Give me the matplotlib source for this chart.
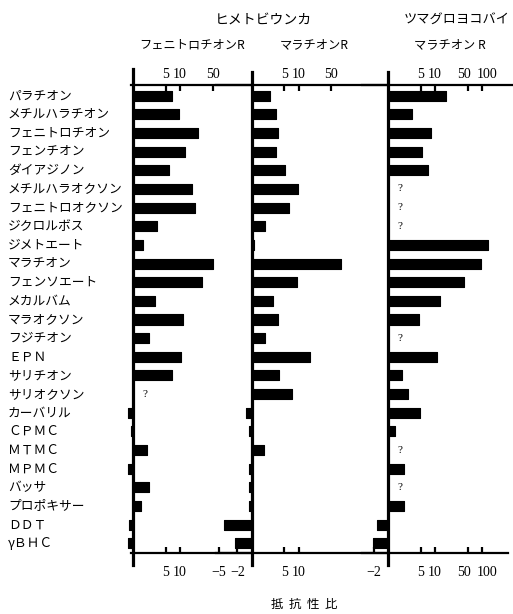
import matplotlib

matplotlib.use("Agg")

import matplotlib.pyplot as plt
import numpy as np
from matplotlib.ticker import NullLocator
from matplotlib.transforms import ScaledTranslation, blended_transform_factory

plt.rcParams["font.family"] = ["Noto Sans CJK JP", "DejaVu Sans"]

INSECTICIDES = [
    "パラチオン", "メチルハラチオン", "フェニトロチオン", "フェンチオン", "ダイアジノン",
    "メチルハラオクソン", "フェニトロオクソン", "ジクロルボス", "ジメトエート", "マラチオン",
    "フェンソエート", "メカルバム", "マラオクソン", "フジチオン", "ＥＰＮ",
    "サリチオン", "サリオクソン", "カーバリル", "ＣＰＭＣ", "ＭＴＭＣ",
    "ＭＰＭＣ", "バッサ", "プロポキサー", "ＤＤＴ", "γＢＨＣ",
]

# resistance ratios; negative = negatively correlated (ratio 1/|r|), None = "?"
SBPH_FENITROTHION_R = [
    6.6, 9.4, 24, 12.8, 5.9, 18, 20.5, 3.3, 1.6, 50,
    30, 2.9, 11.8, 2.15, 10.7, 6.6, None, -1.3, -1.1, 2.0,
    -1.3, 2.2, 1.5, -1.2, -1.3,
]
SBPH_MALATHION_R = [
    2.5, 3.3, 3.6, 3.3, 5.2, 9.6, 6.3, 1.9, 1.15, 79,
    9.4, 2.8, 3.6, 1.9, 18, 3.9, 7.3, -1.3, -1.15, 1.85,
    -1.15, -1.15, -1.15, -3.8, -2.2,
]
GLH_MALATHION_R = [
    17, 3.3, 8.1, 5.2, 7.0, None, None, None, 137, 93,
    42, 13, 4.6, None, 10.9, 2.0, 2.7, 4.7, 1.4, None,
    2.15, None, 2.15, -1.75, -2.1,
]

PANEL_DATA = [SBPH_FENITROTHION_R, SBPH_MALATHION_R, GLH_MALATHION_R]
PANEL_TITLES = ["フェニトロチオンR", "マラチオンR", "マラチオン R"]
TOP_TICKS = [[5, 10, 50], [5, 10, 50], [5, 10, 50, 100]]
BOTTOM_TICKS = [[5, 10], [-5, -2, 5, 10], [-2, 5, 10, 50, 100]]
# small sideways nudges (points) so the crowded "50 100" labels don't collide
LABEL_NUDGE = {50: -2.5, 100: 4.0}

W, H = 513, 614
DECADE = 47.0  # pixels per decade
ORIGINS = [133, 251.5, 388]
SPANS = [(0.3, 2.5), (0.75, 2.9), (0.55, 2.65)]
TOP_PX, BOTTOM_PX = 85, 553
ROW0_PX, ROW_STEP = 95.7, 18.65


def to_axis(value):
    return 1.0 / abs(value) if value < 0 else float(value)


def tick_label(value):
    return f"−{abs(value)}" if value < 0 else str(value)


def style_labels(axis_obj, ticks, index):
    for label, tick in zip(axis_obj.get_xticklabels(), ticks):
        label.set_family("Liberation Serif")
        if index == 2 and tick in LABEL_NUDGE:
            shift = ScaledTranslation(LABEL_NUDGE[tick] / 72, 0, fig.dpi_scale_trans)
            label.set_transform(label.get_transform() + shift)


fig = plt.figure(figsize=(W / 100, H / 100), dpi=100)
rows = np.arange(len(INSECTICIDES))
y_top = (TOP_PX - ROW0_PX) / ROW_STEP
y_bottom = (BOTTOM_PX - ROW0_PX) / ROW_STEP

axes = []
for index, values in enumerate(PANEL_DATA):
    origin = ORIGINS[index]
    left_dec, right_dec = SPANS[index]
    left_px = origin - left_dec * DECADE
    right_px = origin + right_dec * DECADE
    ax = fig.add_axes([
        left_px / W, (H - BOTTOM_PX) / H,
        (right_px - left_px) / W, (BOTTOM_PX - TOP_PX) / H,
    ])
    ax.patch.set_alpha(0)
    ax.set_xscale("log")
    ax.set_xlim(10 ** -left_dec, 10 ** right_dec)
    ax.set_ylim(y_bottom, y_top)

    ends = np.array([np.nan if v is None else to_axis(v) for v in values])
    ax.barh(rows, ends - 1, left=1, height=0.54, color="black",
            edgecolor="black", linewidth=0.8, joinstyle="round")
    for row, v in zip(rows, values):
        if v is None:
            ax.annotate("?", xy=(1, row), xytext=(7, 0), textcoords="offset points",
                        ha="left", va="center", fontsize=8, family="Liberation Serif")

    ax.axvline(1, ymin=-0.026, ymax=1.035 if index == 0 else 1.028,
               color="black", lw=2.3, clip_on=False)

    for side in ("left", "right"):
        ax.spines[side].set_visible(False)
    for side in ("top", "bottom"):
        ax.spines[side].set_linewidth(1.6)
    if index == 0:
        ax.spines["top"].set_bounds(0.9, 10 ** right_dec)
        ax.spines["bottom"].set_bounds(0.9, 10 ** right_dec)
    if index == 2:
        ax.spines["bottom"].set_bounds(10 ** -left_dec, 10 ** 2.55)

    ax.yaxis.set_visible(False)
    ax.xaxis.set_minor_locator(NullLocator())
    ax.set_xticks([to_axis(t) for t in BOTTOM_TICKS[index]],
                  [tick_label(t) for t in BOTTOM_TICKS[index]])
    ax.tick_params(axis="x", direction="in", length=4, width=1.6, pad=9, labelsize=10)
    style_labels(ax, BOTTOM_TICKS[index], index)

    top = ax.secondary_xaxis("top")
    top.xaxis.set_minor_locator(NullLocator())
    top.set_xticks(TOP_TICKS[index], [str(t) for t in TOP_TICKS[index]])
    top.tick_params(axis="x", direction="in", length=4, width=1.6, pad=3, labelsize=10)
    top.spines["top"].set_visible(False)
    style_labels(top, TOP_TICKS[index], index)
    axes.append(ax)

# row labels
label_tf = blended_transform_factory(fig.transFigure, axes[0].transData)
for row, name in zip(rows, INSECTICIDES):
    axes[0].text(8 / W, row, name, transform=label_tf, ha="left", va="center",
                 fontsize=9.2, clip_on=False)

# headers
fig.text(263 / W, 1 - 20 / H, "ヒメトビウンカ", ha="center", va="center", fontsize=10)
fig.text(457 / W, 1 - 20 / H, "ツマグロヨコバイ", ha="center", va="center", fontsize=9.5)
for x_px, title in zip([192, 314, 450], PANEL_TITLES):
    fig.text(x_px / W, 1 - 45 / H, title, ha="center", va="center", fontsize=8.8)
fig.text(304 / W, 1 - 604 / H, "抵  抗  性  比", ha="center", va="center", fontsize=9)

fig.savefig("out.png", dpi=100, facecolor="white")
